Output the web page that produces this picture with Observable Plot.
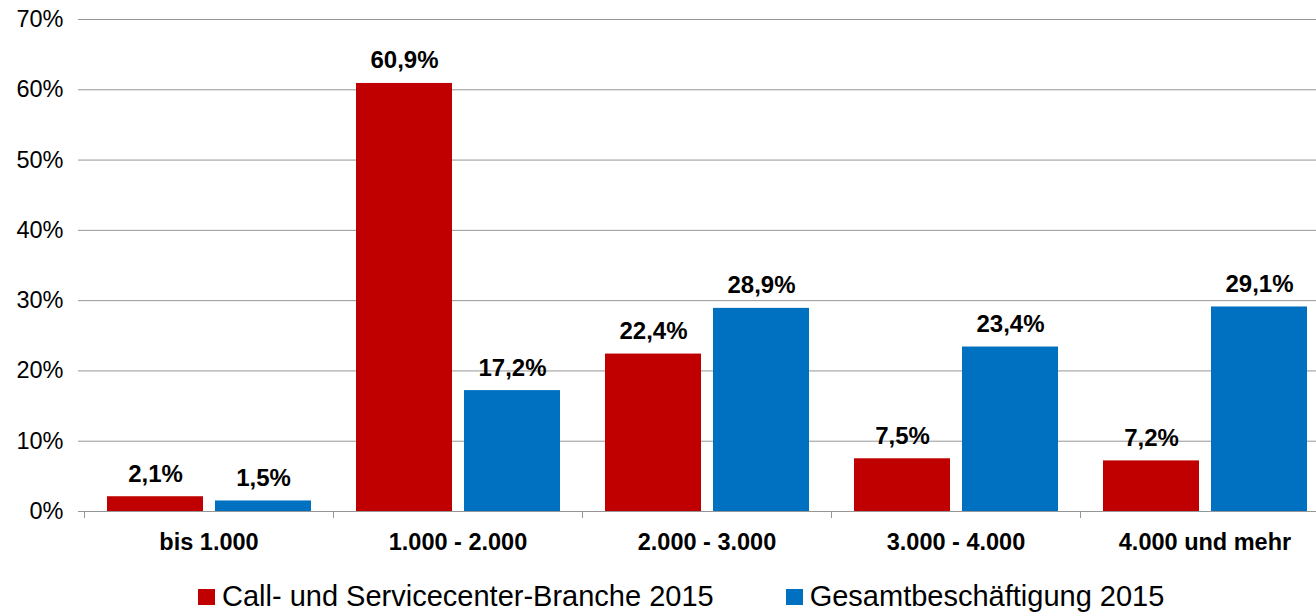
<!DOCTYPE html>
<html>
<head>
<meta charset="utf-8">
<script src="https://cdn.jsdelivr.net/npm/d3@7"></script>
<script src="https://cdn.jsdelivr.net/npm/@observablehq/plot@0.6"></script>
<style>
  html, body { margin: 0; padding: 0; background: #fff; overflow: hidden; }
  #chart svg { max-width: none !important; display: block; }
  .legend {
    font-family: "Liberation Sans", Arial, sans-serif;
    font-size: 29px;
    line-height: 44px;
    padding-top: 6px;
    padding-left: 198px;
    white-space: nowrap;
    color: #000;
  }
  .legend .swatch {
    display: inline-block;
    width: 17px;
    height: 16px;
    margin-right: 7px;
    margin-bottom: 1.5px;
    vertical-align: baseline;
  }
  .legend .item + .item { margin-left: 72px; }
</style>
</head>
<body>
<div id="chart"></div>
<div class="legend" id="legend"></div>
<script>
// Monatliches Bruttoeinkommen (Euro) – Anteil der Beschäftigten je Klasse
const categories = ["bis 1.000", "1.000 - 2.000", "2.000 - 3.000", "3.000 - 4.000", "4.000 und mehr"];
const seriesNames = ["Call- und Servicecenter-Branche 2015", "Gesamtbeschäftigung 2015"];
const callcenterValues = [2.1, 60.9, 22.4, 7.5, 7.2];
const gesamtValues = [1.5, 17.2, 28.9, 23.4, 29.1];
const seriesColors = ["#C00000", "#0070C0"];
const yTicks = [0, 10, 20, 30, 40, 50, 60, 70];

const rows = categories.flatMap((category, i) => [
  {category, series: seriesNames[0], value: callcenterValues[i]},
  {category, series: seriesNames[1], value: gesamtValues[i]}
]);

const fmt = v => v.toFixed(1).replace(".", ",") + "%";
const axisGray = "#969696";

// Short tick below the baseline at the left edge of every category group.
function categoryTicks(index, scales, values, dimensions) {
  const y0 = scales.y(0);
  const x = dimensions.marginLeft + 0.5;
  return d3.create("svg:line")
    .attr("stroke", axisGray)
    .attr("x1", x).attr("x2", x)
    .attr("y1", y0).attr("y2", y0 + 7)
    .node();
}

// Full-height value axis line, drawn in the first category group only.
function valueAxisLine(index, scales, values, dimensions) {
  if (!index || index.length === 0) return null;
  const x = dimensions.marginLeft + 0.5;
  return d3.create("svg:line")
    .attr("stroke", axisGray)
    .attr("x1", x).attr("x2", x)
    .attr("y1", scales.y(yTicks[yTicks.length - 1]))
    .attr("y2", scales.y(0) + 7)
    .node();
}

const chart = Plot.plot({
  width: 1330,
  height: 568,
  marginLeft: 83,
  marginRight: 0,
  marginTop: 19,
  marginBottom: 57,
  style: {
    fontFamily: "'Liberation Sans', Arial, sans-serif",
    fontSize: "23.5px",
    color: "#000",
    background: "#fff",
    overflow: "visible",
    maxWidth: "none"
  },
  fx: {domain: categories, padding: 0, label: null},
  x: {domain: seriesNames, paddingInner: 0.1136, paddingOuter: 0.206, axis: null},
  y: {domain: [0, 70], label: null},
  color: {domain: seriesNames, range: seriesColors},
  marks: [
    Plot.gridY(yTicks, {stroke: axisGray, strokeOpacity: 1, strokeWidth: 1}),
    Plot.axisY(yTicks, {
      tickFormat: d => `${d}%`,
      tickSize: 6,
      tickPadding: 15,
      stroke: axisGray,
      fill: "#000",
      fontSize: 23.5,
      label: null
    }),
    Plot.barY(rows, {fx: "category", x: "series", y: "value", fill: "series"}),
    Plot.ruleY([0], {stroke: axisGray, strokeWidth: 1}),
    categoryTicks,
    Plot.ruleX([categories[0]], {fx: d => d, render: valueAxisLine}),
    Plot.text(rows, {
      fx: "category",
      x: "series",
      y: "value",
      text: d => fmt(d.value),
      dy: -15,
      lineAnchor: "bottom",
      fontWeight: "bold",
      fontSize: 24,
      fill: "#000"
    }),
    Plot.axisFx({
      anchor: "bottom",
      tickSize: 0,
      tickPadding: 22,
      fontWeight: "bold",
      fontSize: 23.5,
      fill: "#000",
      label: null
    })
  ]
});

document.getElementById("chart").append(chart);

// Legend below the chart
const legend = d3.select("#legend");
seriesNames.forEach((name, i) => {
  const item = legend.append("span").attr("class", "item");
  item.append("span").attr("class", "swatch").style("background", seriesColors[i]);
  item.append("span").text(name);
});
</script>
</body>
</html>
